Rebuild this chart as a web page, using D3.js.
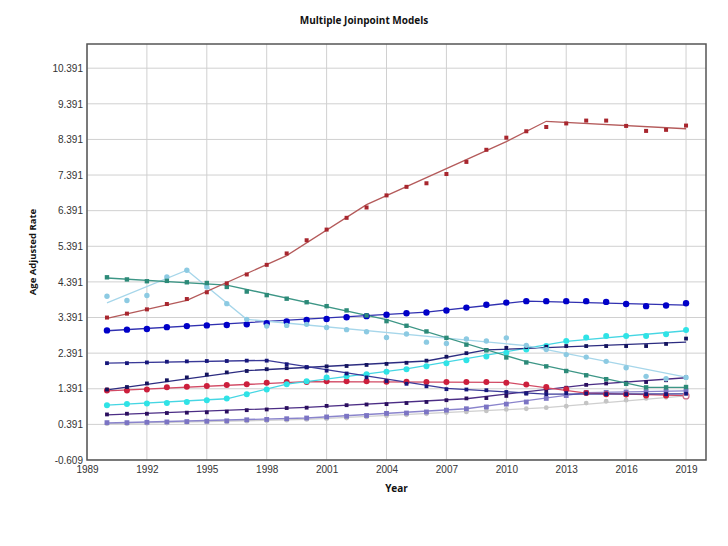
<!DOCTYPE html>
<html>
<head>
<meta charset="utf-8">
<script src="https://cdn.jsdelivr.net/npm/d3@7"></script>
<style>
  body { margin: 0; background: #fff; }
  svg text { font-family: "Liberation Sans", Arial, sans-serif; }
</style>
</head>
<body>
<div id="chart"></div>
<script>
// observed years and tick labels
const years = [1990, 1991, 1992, 1993, 1994, 1995, 1996, 1997, 1998, 1999,
               2000, 2001, 2002, 2003, 2004, 2005, 2006, 2007, 2008, 2009,
               2010, 2011, 2012, 2013, 2014, 2015, 2016, 2017, 2018, 2019];
const xTicks = [1989, 1992, 1995, 1998, 2001, 2004, 2007, 2010, 2013, 2016, 2019];
const yTicks = [-0.609, 0.391, 1.391, 2.391, 3.391, 4.391, 5.391, 6.391, 7.391, 8.391, 9.391, 10.391];

// observed rates, one value per year
const redObs = [3.39, 3.50, 3.62, 3.77, 3.91, 4.10, 4.35, 4.60, 4.87, 5.19,
                5.56, 5.86, 6.19, 6.48, 6.82, 7.06, 7.16, 7.42, 7.76, 8.10,
                8.44, 8.62, 8.74, 8.84, 8.92, 8.92, 8.77, 8.63, 8.66, 8.78];
const tealObs = [4.52, 4.46, 4.41, 4.42, 4.38, 4.36, 4.25, 4.12, 4.02, 3.92,
                 3.82, 3.71, 3.59, 3.45, 3.29, 3.16, 3.00, 2.82, 2.63, 2.47,
                 2.27, 2.13, 2.02, 1.89, 1.77, 1.66, 1.53, 1.43, 1.43, 1.44];
const lightBlueObs = [3.99, 3.87, 4.01, 4.53, 4.72, 4.25, 3.78, 3.34, 3.15, 3.17,
                      3.20, 3.11, 3.05, 2.99, 2.83, 2.93, 2.70, 2.66, 2.79, 2.73,
                      2.82, 2.61, 2.49, 2.35, 2.28, 2.16, 1.98, 1.74, 1.67, 1.71];
const blueObs = [3.03, 3.05, 3.07, 3.12, 3.15, 3.17, 3.18, 3.20, 3.23, 3.28,
                 3.32, 3.35, 3.40, 3.43, 3.47, 3.51, 3.53, 3.59, 3.67, 3.75,
                 3.81, 3.85, 3.85, 3.85, 3.85, 3.83, 3.77, 3.71, 3.73, 3.79];
const navyAObs = [2.11, 2.11, 2.13, 2.15, 2.16, 2.17, 2.17, 2.18, 2.18, 2.08,
                  2.00, 1.90, 1.82, 1.71, 1.61, 1.53, 1.46, 1.38, 1.37, 1.35,
                  1.30, 1.26, 1.24, 1.27, 1.26, 1.24, 1.24, 1.24, 1.24, 1.25];
const navyBObs = [1.37, 1.44, 1.54, 1.63, 1.71, 1.79, 1.85, 1.89, 1.94, 1.97,
                  1.99, 2.02, 2.03, 2.06, 2.09, 2.12, 2.18, 2.29, 2.39, 2.48,
                  2.54, 2.56, 2.57, 2.59, 2.59, 2.59, 2.59, 2.59, 2.65, 2.80];
const crimsonObs = [1.34, 1.34, 1.37, 1.43, 1.45, 1.47, 1.50, 1.52, 1.56, 1.58,
                    1.58, 1.60, 1.60, 1.60, 1.59, 1.59, 1.58, 1.58, 1.58, 1.58,
                    1.56, 1.51, 1.44, 1.38, 1.27, 1.24, 1.23, 1.20, 1.20, 1.19];
const cyanObs = [0.93, 0.96, 0.98, 0.99, 1.02, 1.07, 1.12, 1.24, 1.37, 1.52,
                 1.60, 1.71, 1.74, 1.80, 1.87, 1.94, 2.02, 2.11, 2.19, 2.30,
                 2.40, 2.49, 2.59, 2.73, 2.83, 2.87, 2.87, 2.87, 2.92, 3.04];
const purpleObs = [0.67, 0.69, 0.69, 0.71, 0.72, 0.73, 0.75, 0.79, 0.81, 0.85,
                   0.86, 0.91, 0.93, 0.95, 0.96, 0.99, 1.02, 1.07, 1.12, 1.13,
                   1.19, 1.26, 1.33, 1.42, 1.50, 1.54, 1.56, 1.58, 1.63, 1.71];
const slateObs = [0.44, 0.44, 0.45, 0.46, 0.47, 0.48, 0.49, 0.52, 0.53, 0.55,
                  0.57, 0.60, 0.62, 0.64, 0.70, 0.71, 0.74, 0.79, 0.83, 0.88,
                  0.96, 1.02, 1.12, 1.20, 1.29, 1.29, 1.30, 1.31, 1.32, 1.33];
const grayObs = [0.41, 0.41, 0.42, 0.43, 0.44, 0.45, 0.46, 0.48, 0.49, 0.51,
                 0.53, 0.55, 0.57, 0.60, 0.63, 0.66, 0.69, 0.72, 0.74, 0.77,
                 0.81, 0.83, 0.86, 0.90, 0.99, 1.04, 1.07, 1.12, 1.15, 1.19];

// joinpoint fits: [year, modelled rate] at each joinpoint
const redFit = [[1990, 3.37], [1994, 3.87], [1999, 5.13], [2003, 6.56], [2010, 8.33], [2012, 8.90], [2019, 8.69]];
const tealFit = [[1990, 4.50], [1996, 4.30], [2004, 3.33], [2011, 2.15], [2017, 1.43], [2019, 1.43]];
const lightBlueFit = [[1990, 3.80], [1994, 4.72], [1997, 3.34], [2011, 2.60], [2019, 1.72]];
const blueFit = [[1990, 3.02], [2006, 3.54], [2011, 3.85], [2019, 3.74]];
const navyAFit = [[1990, 2.11], [1998, 2.19], [2007, 1.40], [2012, 1.24], [2019, 1.25]];
const navyBFit = [[1990, 1.36], [1997, 1.90], [2006, 2.17], [2009, 2.48], [2019, 2.70]];
const crimsonFit = [[1990, 1.33], [2000, 1.59], [2010, 1.57], [2014, 1.27], [2019, 1.20]];
const cyanFit = [[1990, 0.93], [1996, 1.11], [1999, 1.52], [2005, 1.95], [2013, 2.72], [2019, 3.02]];
const purpleFit = [[1990, 0.66], [2000, 0.87], [2008, 1.11], [2014, 1.50], [2019, 1.70]];
const slateFit = [[1990, 0.43], [2000, 0.57], [2008, 0.83], [2014, 1.28], [2019, 1.33]];
const grayFit = [[1990, 0.41], [2000, 0.53], [2012, 0.86], [2019, 1.19]];

// drawing order and styles (bottom first)
const series = [
  { obs: grayObs,      fit: grayFit,      dot: "#c4c4c4", line: "#cfcfcf", shape: "circle", r: 2.4 },
  { obs: slateObs,     fit: slateFit,     dot: "#7b74c4", line: "#8a84cc", shape: "square", r: 2.4 },
  { obs: purpleObs,    fit: purpleFit,    dot: "#2a0e5e", line: "#4b2d85", shape: "square", r: 1.9 },
  { obs: crimsonObs,   fit: crimsonFit,   dot: "#cc1f3c", line: "#d24a64", shape: "circle", r: 3, lastOpen: "#d07088" },
  { obs: cyanObs,      fit: cyanFit,      dot: "#2fe3e6", line: "#45d6e3", shape: "circle", r: 3 },
  { obs: navyBObs,     fit: navyBFit,     dot: "#14145e", line: "#2c2c80", shape: "square", r: 1.9 },
  { obs: navyAObs,     fit: navyAFit,     dot: "#16167a", line: "#3a3a98", shape: "square", r: 1.9 },
  { obs: blueObs,      fit: blueFit,      dot: "#0000c8", line: "#3030b0", shape: "circle", r: 3.2 },
  { obs: lightBlueObs, fit: lightBlueFit, dot: "#8ccae2", line: "#a6d6ea", shape: "circle", r: 2.7 },
  { obs: tealObs,      fit: tealFit,      dot: "#2c8a78", line: "#3d9686", shape: "square", r: 2.2 },
  { obs: redObs,       fit: redFit,       dot: "#a8262e", line: "#b45a5a", shape: "square", r: 2.0 }
];

const width = 728, height = 546;
const margin = { top: 44, right: 22, bottom: 86, left: 87 };

const svg = d3.select("#chart").append("svg")
  .attr("width", width)
  .attr("height", height);

const x = d3.scaleLinear()
  .domain([1989, 2020])
  .range([margin.left, width - margin.right]);

const y = d3.scaleLinear()
  .domain([-0.609, 11.07])
  .range([height - margin.bottom, margin.top]);

// grid lines
svg.append("g")
  .selectAll("line.vg")
  .data(xTicks)
  .join("line")
  .attr("x1", d => x(d)).attr("x2", d => x(d))
  .attr("y1", margin.top).attr("y2", height - margin.bottom)
  .attr("stroke", "#d0d0d0").attr("stroke-width", 1);

svg.append("g")
  .selectAll("line.hg")
  .data(yTicks)
  .join("line")
  .attr("x1", margin.left).attr("x2", width - margin.right)
  .attr("y1", d => y(d)).attr("y2", d => y(d))
  .attr("stroke", "#d0d0d0").attr("stroke-width", 1);

// axes, labels only
const xAxis = svg.append("g")
  .attr("transform", `translate(0,${height - margin.bottom})`)
  .call(d3.axisBottom(x).tickValues(xTicks).tickFormat(d3.format("d")).tickSize(0).tickPadding(6));

// plain hyphen for the negative label, as in the original
const yFormat = d => d3.format(".3f")(d).replace("\u2212", "-");
const yAxis = svg.append("g")
  .attr("transform", `translate(${margin.left},0)`)
  .call(d3.axisLeft(y).tickValues(yTicks).tickFormat(yFormat).tickSize(0).tickPadding(4));

[xAxis, yAxis].forEach(g => {
  g.select(".domain").remove();
  g.selectAll("text")
    .attr("fill", "#333")
    .style("font-size", "10px")
    .style("font-family", "'Liberation Sans', Arial, sans-serif");
});

// fitted joinpoint lines
const line = d3.line()
  .x(d => x(d[0]))
  .y(d => y(d[1]));

svg.append("g")
  .selectAll("path")
  .data(series)
  .join("path")
  .attr("d", s => line(s.fit))
  .attr("fill", "none")
  .attr("stroke", s => s.line)
  .attr("stroke-width", 1.3);

// observed points
series.forEach(s => {
  const pts = s.obs.map((v, i) => ({ year: years[i], v: v, last: i === s.obs.length - 1 }));
  const g = svg.append("g");
  if (s.shape === "circle") {
    g.selectAll("circle")
      .data(pts)
      .join("circle")
      .attr("cx", d => x(d.year))
      .attr("cy", d => y(d.v))
      .attr("r", s.r)
      .attr("fill", d => (d.last && s.lastOpen) ? "#fff" : s.dot)
      .attr("stroke", d => (d.last && s.lastOpen) ? s.lastOpen : "none")
      .attr("stroke-width", 1.2);
  } else {
    g.selectAll("rect")
      .data(pts)
      .join("rect")
      .attr("x", d => x(d.year) - s.r)
      .attr("y", d => y(d.v) - s.r)
      .attr("width", s.r * 2)
      .attr("height", s.r * 2)
      .attr("fill", s.dot);
  }
});

// frame
svg.append("rect")
  .attr("x", margin.left)
  .attr("y", margin.top)
  .attr("width", width - margin.left - margin.right)
  .attr("height", height - margin.top - margin.bottom)
  .attr("fill", "none")
  .attr("stroke", "#555")
  .attr("stroke-width", 1.5);

// titles
svg.append("text")
  .attr("x", width / 2)
  .attr("y", 24)
  .attr("text-anchor", "middle")
  .style("font-family", "'Open Sans', sans-serif")
  .style("font-size", "10px")
  .style("font-weight", "bold")
  .attr("fill", "#111")
  .text("Multiple Joinpoint Models");

svg.append("text")
  .attr("x", (margin.left + width - margin.right) / 2)
  .attr("y", 492)
  .attr("text-anchor", "middle")
  .style("font-family", "'Open Sans', sans-serif")
  .style("font-size", "10px")
  .style("font-weight", "bold")
  .attr("fill", "#111")
  .text("Year");

svg.append("text")
  .attr("transform", `translate(36,${(margin.top + height - margin.bottom) / 2}) rotate(-90)`)
  .attr("text-anchor", "middle")
  .style("font-family", "'Open Sans', sans-serif")
  .style("font-size", "9.5px")
  .style("font-weight", "bold")
  .attr("fill", "#111")
  .text("Age Adjusted Rate");
</script>
</body>
</html>
